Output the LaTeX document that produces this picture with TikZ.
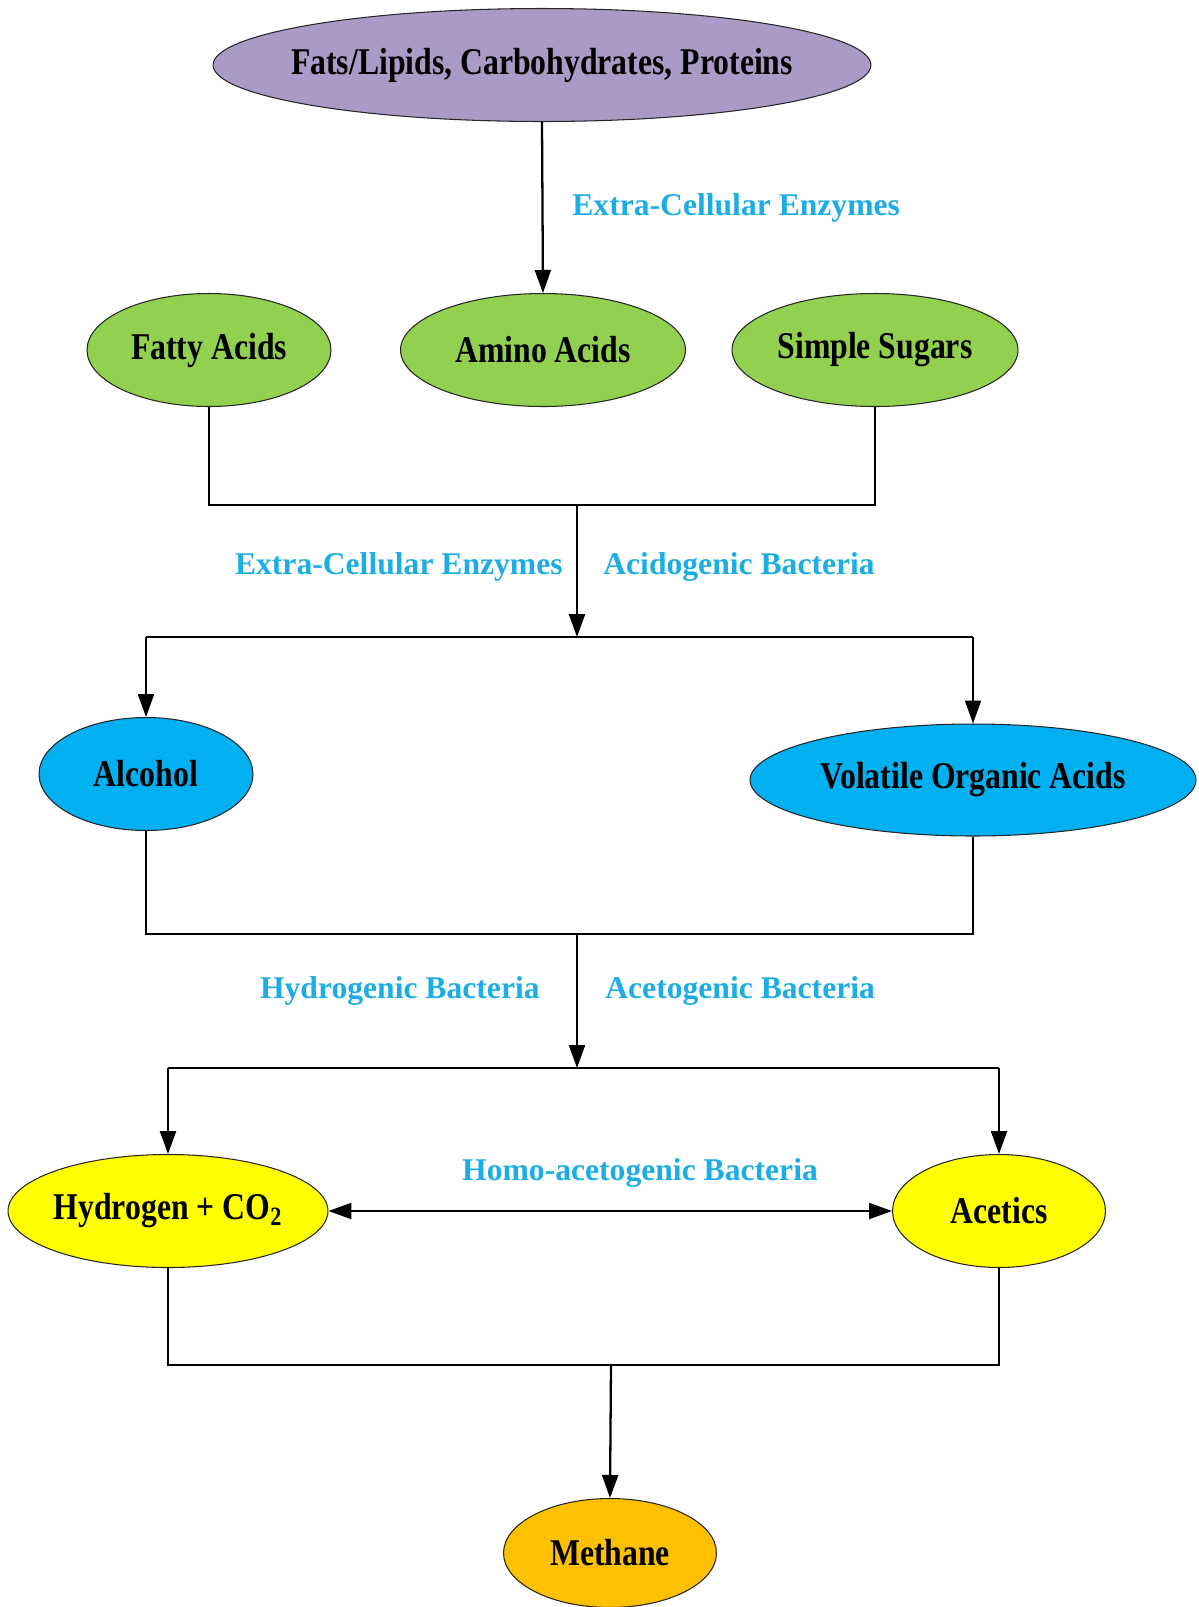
\documentclass[tikz,border=0pt]{standalone}
\usepackage{fontspec}
\setmainfont{Liberation Serif}
\newfontfamily\tallfont[FakeStretch=0.84]{Liberation Serif}
\usetikzlibrary{positioning, shapes.geometric, arrows.meta}
\definecolor{feed}{HTML}{A99BC6}
\definecolor{mono}{HTML}{92D050}
\definecolor{acid}{HTML}{00B0F0}
\definecolor{gas}{HTML}{FFFF00}
\definecolor{fuel}{HTML}{FFC000}
\definecolor{microbe}{HTML}{1CADE4}

\begin{document}
\begin{tikzpicture}[x=0.02cm, y=-0.02cm, font=\bfseries\fontsize{18}{21}\selectfont,
  stage/.style={ellipse, draw=black!85, line width=0.6pt, inner xsep=-1.5cm, inner ysep=0pt,
    minimum height=2.26cm, font=\tallfont\bfseries\fontsize{21.5}{24}\selectfont},
  flow/.style={line width=1.3pt},
  tip/.style={flow, -{Triangle[length=4.6mm, width=3.2mm]}},
  agent/.style={text=microbe, inner sep=0pt}]
  \useasboundingbox (0,0) rectangle (1198,1607);

  % substrates and hydrolysis products
  \node[stage, fill=feed, minimum width=13.16cm] (feed) at (542,65) {Fats/Lipids, Carbohydrates, Proteins};
  \node[stage, fill=mono, minimum width=4.88cm] (fatty) at (209,350) {Fatty Acids};
  \node[stage, fill=mono, minimum width=5.7cm] (amino) at (543,350) {Amino Acids};
  \node[stage, fill=mono, minimum width=5.72cm] (sugar) at (875,350) {Simple Sugars};

  % acidogenesis
  \node[stage, fill=acid, minimum width=4.28cm] (alcohol) at (146,774) {Alcohol};
  \node[stage, fill=acid, minimum width=8.92cm, minimum height=2.24cm] (voa) at (973,780) {Volatile Organic Acids};

  % acetogenesis
  \node[stage, fill=gas, minimum width=6.4cm] (hydro) at (168,1211) {Hydrogen + CO\textsubscript{2}};
  \node[stage, fill=gas, minimum width=4.26cm] (acetic) at (999,1211) {Acetics};

  % methanogenesis
  \node[stage, fill=fuel, minimum width=4.26cm, minimum height=2.18cm] (methane) at (610,1553) {Methane};

  \node[agent, anchor=west] (enz1) at (572,208) {Extra-Cellular Enzymes};
  \node[agent, anchor=east] (enz2) at (563,567) {Extra-Cellular Enzymes};
  \node[agent, anchor=west] (acido) at (603,567) {Acidogenic Bacteria};
  \node[agent, anchor=east] (hydrob) at (540,991) {Hydrogenic Bacteria};
  \node[agent, anchor=west] (aceto) at (605,991) {Acetogenic Bacteria};
  \node[agent] (homo) at (640,1173) {Homo-acetogenic Bacteria};

  \coordinate (j1) at (577,505);
  \coordinate (s1) at (577,637);
  \coordinate (j2) at (577,934);
  \coordinate (s2) at (577,1068);
  \coordinate (j3) at (611,1365);

  \draw[tip] (feed.south) -- (amino.north);

  \draw[flow] (fatty.south) -- (fatty.south |- j1) -- (sugar.south |- j1) -- (sugar.south);
  \draw[tip] (j1) -- (s1);
  \draw[flow] (alcohol.north |- s1) -- (voa.north |- s1);
  \draw[tip] (alcohol.north |- s1) -- (alcohol.north);
  \draw[tip] (voa.north |- s1) -- (voa.north);

  \draw[flow] (alcohol.south) -- (alcohol.south |- j2) -- (voa.south |- j2) -- (voa.south);
  \draw[tip] (j2) -- (s2);
  \draw[flow] (hydro.north |- s2) -- (acetic.north |- s2);
  \draw[tip] (hydro.north |- s2) -- (hydro.north);
  \draw[tip] (acetic.north |- s2) -- (acetic.north);

  \draw[flow, {Triangle[length=4.6mm, width=3.2mm]}-{Triangle[length=4.6mm, width=3.2mm]}] (hydro.east) -- (acetic.west);

  \draw[flow] (hydro.south) -- (hydro.south |- j3) -- (acetic.south |- j3) -- (acetic.south);
  \draw[tip] (j3) -- (methane.north);
\end{tikzpicture}
\end{document}
